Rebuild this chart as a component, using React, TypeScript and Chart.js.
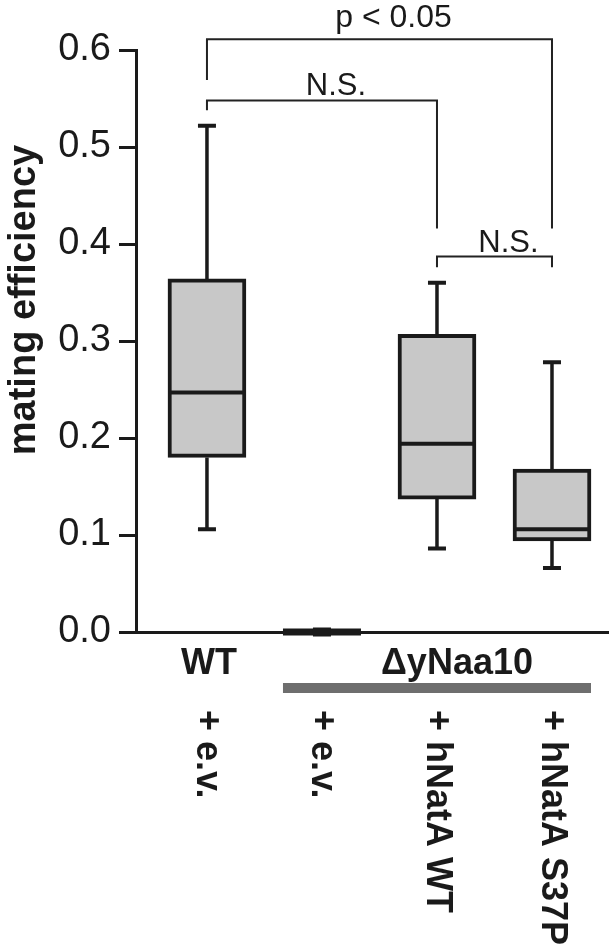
import React, { useEffect, useRef } from 'react';
import { Chart, registerables } from 'chart.js';

Chart.register(...registerables);

// ---- data ----
const positions = [1, 2, 3, 4];
const conditionLabels = ['+ e.v.', '+ e.v.', '+ hNatA WT', '+ hNatA S37P'];
const groupLabels = ['WT', 'ΔyNaa10'];
const groupFrom = [1, 2];
const groupTo = [1, 4];
const whiskerLow = [0.106, 0, 0.086, 0.066];
const q1 = [0.18, 0, 0.137, 0.094];
const median = [0.247, 0, 0.194, 0.106];
const q3 = [0.364, 0, 0.307, 0.168];
const whiskerHigh = [0.522, 0, 0.36, 0.278];
const yMin = 0;
const yMax = 0.6;
const yStep = 0.1;
const yTitle = 'mating efficiency';
const compLabels = ['p < 0.05', 'N.S.', 'N.S.'];
const compFrom = [1, 1, 3];
const compTo = [4, 3, 4];
const compLevel = [0.611, 0.548, 0.387];
const compLeftEnd = [0.569, 0.538, 0.376];
const compRightEnd = [0.416, 0.416, 0.376];

// ---- styles ----
const FONT = '"Liberation Sans", Arial, Helvetica, sans-serif';
const INK = '#1a1a1a';

const boxPlugin = {
  id: 'boxExtras',
  afterDatasetsDraw(chart: any) {
    const { ctx, scales } = chart;
    const xs = scales.x;
    const ys = scales.y;
    const meta = chart.getDatasetMeta(0);
    ctx.save();
    ctx.strokeStyle = INK;
    ctx.fillStyle = INK;
    positions.forEach((p, i) => {
      const x = xs.getPixelForValue(p);
      const w = meta.data[i] ? meta.data[i].width : 78;
      const yHi = ys.getPixelForValue(whiskerHigh[i]);
      const yQ3 = ys.getPixelForValue(q3[i]);
      const yQ1 = ys.getPixelForValue(q1[i]);
      const yLo = ys.getPixelForValue(whiskerLow[i]);
      const yMed = ys.getPixelForValue(median[i]);
      const capW = 18;
      if (Math.abs(yQ1 - yQ3) < 1) {
        ctx.fillRect(x - w / 2, yMed - 3.5, w, 7);
        ctx.fillRect(x - capW / 2, yMed - 4.5, capW, 9);
        return;
      }
      ctx.lineWidth = 3.5;
      ctx.beginPath();
      ctx.moveTo(x, yHi);
      ctx.lineTo(x, yQ3);
      ctx.moveTo(x, yQ1);
      ctx.lineTo(x, yLo);
      ctx.stroke();
      ctx.lineWidth = 4;
      ctx.beginPath();
      ctx.moveTo(x - capW / 2, yHi);
      ctx.lineTo(x + capW / 2, yHi);
      ctx.moveTo(x - capW / 2, yLo);
      ctx.lineTo(x + capW / 2, yLo);
      ctx.moveTo(x - w / 2 + 2, yMed);
      ctx.lineTo(x + w / 2 - 2, yMed);
      ctx.stroke();
    });
    ctx.restore();
  },
  afterDraw(chart: any) {
    const { ctx, scales, chartArea } = chart;
    const xs = scales.x;
    const ys = scales.y;
    const meta = chart.getDatasetMeta(0);
    const bw = meta.data[0] ? meta.data[0].width : 78;
    ctx.save();

    // significance brackets
    ctx.strokeStyle = '#222';
    ctx.lineWidth = 2;
    ctx.fillStyle = INK;
    ctx.textAlign = 'center';
    ctx.textBaseline = 'alphabetic';
    compLabels.forEach((label, i) => {
      const x1 = xs.getPixelForValue(compFrom[i]);
      const x2 = xs.getPixelForValue(compTo[i]);
      const yL = ys.getPixelForValue(compLevel[i]);
      const yA = ys.getPixelForValue(compLeftEnd[i]);
      const yB = ys.getPixelForValue(compRightEnd[i]);
      ctx.beginPath();
      ctx.moveTo(x1, yA);
      ctx.lineTo(x1, yL);
      ctx.lineTo(x2, yL);
      ctx.lineTo(x2, yB);
      ctx.stroke();
      const hasDesc = /[pgqy]/.test(label);
      ctx.font = `${hasDesc ? 32 : 31}px ${FONT}`;
      ctx.fillText(label, (x1 + x2) / 2 + 14, yL - (hasDesc ? 12 : 5));
    });

    const base = chartArea.bottom;
    // group labels and bar
    ctx.font = `bold 36px ${FONT}`;
    ctx.textAlign = 'center';
    ctx.textBaseline = 'alphabetic';
    groupLabels.forEach((label, i) => {
      const xa = xs.getPixelForValue(groupFrom[i]);
      const xb = xs.getPixelForValue(groupTo[i]);
      const multi = groupTo[i] > groupFrom[i];
      ctx.fillStyle = INK;
      ctx.fillText(label, (xa + xb) / 2 + (multi ? 20 : 2), base + 42);
      if (multi) {
        ctx.fillStyle = '#6e6e6e';
        ctx.fillRect(xa - bw / 2, base + 51, xb - xa + bw, 10);
      }
    });

    // rotated condition labels (reading top to bottom)
    ctx.fillStyle = INK;
    ctx.font = `bold 36px ${FONT}`;
    ctx.textAlign = 'left';
    ctx.textBaseline = 'middle';
    conditionLabels.forEach((label, i) => {
      const x = xs.getPixelForValue(positions[i]);
      ctx.save();
      ctx.translate(x, base + 78);
      ctx.rotate(Math.PI / 2);
      ctx.fillText(label, 0, 0);
      ctx.restore();
    });

    // y-axis title
    ctx.font = `bold 38px ${FONT}`;
    ctx.textAlign = 'center';
    ctx.textBaseline = 'middle';
    ctx.translate(25, 300);
    ctx.rotate(-Math.PI / 2);
    ctx.fillText(yTitle, 0, 0);
    ctx.restore();
  },
};

export default function App() {
  const ref = useRef<HTMLCanvasElement | null>(null);
  useEffect(() => {
    if (!ref.current) return;
    const chart = new Chart(ref.current, {
      type: 'bar',
      data: {
        datasets: [
          {
            data: positions.map((p, i) => ({ x: p, y: [q1[i], q3[i]] })) as any,
            backgroundColor: '#c8c8c8',
            borderColor: INK,
            borderWidth: 4,
            borderSkipped: false,
            barThickness: 78,
          },
        ],
      },
      options: {
        animation: false,
        responsive: false,
        events: [],
        layout: { padding: { top: 50, bottom: 317, left: 0, right: 6 } },
        plugins: { legend: { display: false }, tooltip: { enabled: false }, title: { display: false } },
        scales: {
          x: {
            type: 'linear',
            offset: false,
            min: 0.383,
            max: 4.487,
            ticks: { display: false },
            grid: { display: false, drawTicks: false, offset: false },
            border: { display: true, width: 3, color: INK },
            afterFit: (s: any) => {
              s.height = 0;
            },
          },
          y: {
            min: yMin,
            max: yMax,
            ticks: {
              stepSize: yStep,
              callback: (v: any) => Number(v).toFixed(1),
              font: { family: FONT, size: 38 },
              color: INK,
              padding: 8,
            },
            grid: {
              drawOnChartArea: false,
              drawTicks: true,
              tickLength: 17,
              tickWidth: 3,
              tickColor: INK,
            },
            border: { width: 3, color: INK },
            afterFit: (s: any) => {
              s.width = 136;
            },
          },
        },
      },
      plugins: [boxPlugin],
    });
    return () => chart.destroy();
  }, []);
  return (
    <div style={{ position: 'absolute', left: 0, top: 0, width: 614, height: 949, background: '#fff' }}>
      <canvas ref={ref} width={614} height={949} style={{ width: 614, height: 949, display: 'block' }} />
    </div>
  );
}
